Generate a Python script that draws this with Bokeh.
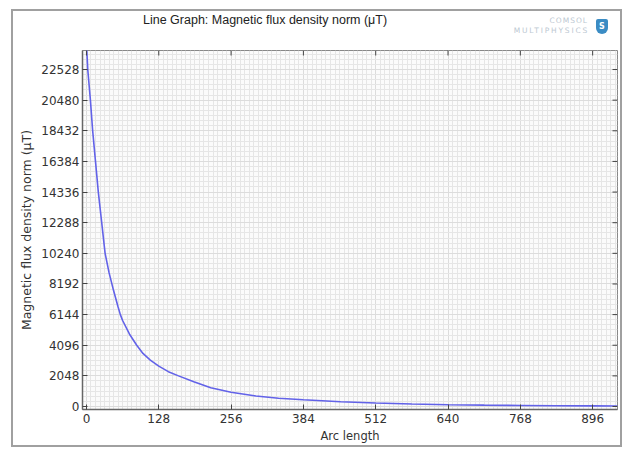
import numpy as np
from bokeh.plotting import figure
from bokeh.layouts import column
from bokeh.models import FixedTicker, Range1d, ColumnDataSource, Div
from bokeh.embed import file_html
from bokeh.resources import INLINE

# Data
arc_length = [0, 2.3, 7, 11, 16, 21, 27, 33, 40, 48, 56, 60, 64, 76, 89, 100, 113,
              128, 145, 163, 190, 220, 256, 300, 340, 384, 450, 512, 576, 640, 704,
              768, 832, 896, 940]
flux_norm = [24300, 22528, 20480, 18432, 16384, 14336, 12288, 10240, 8950, 7750, 6650,
             6144, 5750, 4850, 4096, 3550, 3100, 2700, 2330, 2048, 1650, 1250, 950,
             700, 550, 450, 320, 230, 170, 120, 90, 70, 50, 40, 30]
x_ticks = [0, 128, 256, 384, 512, 640, 768, 896]
y_ticks = [0, 2048, 4096, 6144, 8192, 10240, 12288, 14336, 16384, 18432, 20480, 22528]

title_text = "Line Graph: Magnetic flux density norm (\u03bcT)"
x_label = "Arc length"
y_label = "Magnetic flux density norm (\u03bcT)"

FONT = "DejaVu Sans"
X0, X1 = -7, 940
Y0, Y1 = -200, 23800
x_minor = list(np.arange(-8, 952, 8))
y_minor = list(np.arange(-2048, 24000, 2048 / 6))

W = 607
header = Div(width=W, height=35, margin=0, text=(
    '<div style="position:relative;width:607px;height:35px;overflow:hidden;">'
    '<span style="position:absolute;left:130px;top:1px;font-family:\'Liberation Sans\';'
    'font-size:12.5px;color:#222;white-space:nowrap;">' + title_text + '</span>'
    '<span style="position:absolute;left:475px;top:5px;width:100px;text-align:right;'
    'font-family:\'DejaVu Sans\';font-size:7.5px;color:#bcc8d2;letter-spacing:1px;'
    'white-space:nowrap;">COMSOL</span>'
    '<span style="position:absolute;left:460px;top:15px;width:116px;text-align:right;'
    'font-family:\'DejaVu Sans\';font-size:7.5px;color:#bcc8d2;letter-spacing:1.8px;'
    'white-space:nowrap;">MULTIPHYSICS</span>'
    '<span style="position:absolute;left:583px;top:8px;width:12px;height:15px;'
    'background:#3b8cc4;border-radius:2px 2px 6px 6px;color:white;font-family:\'DejaVu Sans\';'
    'font-size:8px;font-weight:bold;text-align:center;line-height:15px;">S</span>'
    '</div>'))

p = figure(width=W, height=399, output_backend="svg", toolbar_location=None,
           x_range=Range1d(X0, X1), y_range=Range1d(Y0, Y1),
           min_border_left=69, min_border_right=3, min_border_top=4, min_border_bottom=36,
           background_fill_color="#fbfbfb", border_fill_color="white", margin=0)

src = ColumnDataSource(dict(x=arc_length, y=flux_norm))
p.line("x", "y", source=src, line_color="#6262e8", line_width=1.6)

# inward ticks on the top and right edges (clipped to the frame)
p.scatter(x=x_ticks, y=[Y1] * len(x_ticks), marker="dash", angle=np.pi / 2,
          size=10, line_color="#444444", line_width=1)
p.scatter(x=[X1] * len(y_ticks), y=y_ticks, marker="dash",
          size=10, line_color="#444444", line_width=1)

xt = FixedTicker(ticks=x_ticks, minor_ticks=x_minor)
yt = FixedTicker(ticks=y_ticks, minor_ticks=y_minor)
p.xaxis.ticker = xt
p.yaxis.ticker = yt

for ax in (p.xaxis[0], p.yaxis[0]):
    ax.major_tick_in = 5
    ax.major_tick_out = 0
    ax.minor_tick_in = 0
    ax.minor_tick_out = 0
    ax.axis_line_color = "#666666"
    ax.axis_line_width = 1.5
    ax.major_tick_line_color = "#444444"
    ax.major_label_text_font = FONT
    ax.major_label_text_font_size = "12px"
    ax.major_label_text_color = "#333333"
    ax.axis_label_text_font = FONT
    ax.axis_label_text_font_size = "11.5px"
    ax.axis_label_text_font_style = "normal"
    ax.axis_label_text_color = "#333333"

p.xaxis.axis_label = x_label
p.yaxis.axis_label = y_label
p.yaxis.axis_label_text_font_size = "12.5px"
p.xaxis.major_label_standoff = 4
p.xaxis.axis_label_standoff = 3
p.yaxis.major_label_standoff = 3
p.yaxis.axis_label_standoff = 4

for g in (p.xgrid[0], p.ygrid[0]):
    g.grid_line_color = "#dcdcdc"
    g.grid_line_width = 1
    g.minor_grid_line_color = "#e6e6e6"
    g.minor_grid_line_width = 1

p.outline_line_color = "#888888"

layout = column(header, p, spacing=0, width=W + 4, height=438, sizing_mode="fixed",
                margin=(9, 0, 0, 11),
                styles={"border": "2px solid #a0a0a0", "box-sizing": "border-box"})

open("out.html", "w").write(file_html(layout, INLINE))
